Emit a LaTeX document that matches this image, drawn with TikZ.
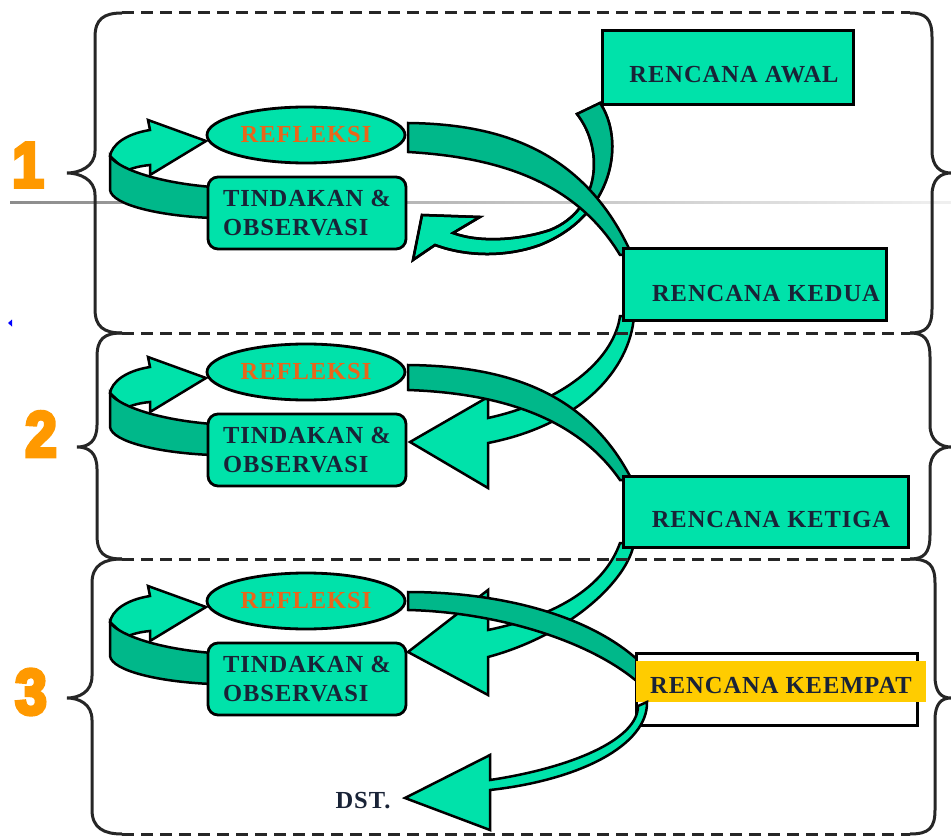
\documentclass[tikz,border=0pt]{standalone}
\usepackage{fontspec}
\setmainfont{Liberation Serif}[LetterSpace=4]
\newfontfamily\numfont{Liberation Sans}[BoldFeatures={FakeBold=6, FakeStretch=0.88}]
\usepackage{xcolor}
\usetikzlibrary{shapes.geometric}
\definecolor{ptkmint}{RGB}{0,226,170}
\definecolor{ptkdark}{RGB}{0,184,138}
\definecolor{ptkorange}{RGB}{255,153,0}
\definecolor{ptkrefl}{RGB}{232,102,26}
\definecolor{ptknavy}{RGB}{25,35,55}
\definecolor{ptkyellow}{RGB}{255,204,0}

\tikzset{
  ribbon/.style={draw=black, line width=2.5pt, fill=ptkmint},
  ribbonside/.style={ribbon, fill=ptkdark},
  lbl/.style={font=\bfseries\fontsize{24.5}{29}\selectfont, text=ptknavy, inner sep=0pt},
  refl/.style={ellipse, draw, line width=2.8pt, fill=ptkmint, minimum width=198pt,
    minimum height=56pt, lbl, text=ptkrefl},
  tbox/.style={rectangle, rounded corners=10pt, draw, line width=2.8pt, fill=ptkmint,
    minimum width=198pt, minimum height=72pt, align=left, lbl},
  planbox/.style={rectangle, draw, line width=3pt, fill=ptkmint, inner sep=0pt},
  panelline/.style={line width=3pt, black!85},
  digit/.style={font=\numfont\bfseries\fontsize{64}{64}\selectfont, text=ptkorange, inner sep=0pt},
}

\begin{document}
\begin{tikzpicture}[x=1pt, y=-1pt]
  \useasboundingbox (0,0) rectangle (951,837);
  % stray guide line and mark
  \shade[left color=black!45, right color=black!6] (10,201.8) rectangle (951,203.8);
  \fill[blue] (8,323) -- (12,319.5) -- (12,326.5) -- cycle;

  % small loops: tindakan back to refleksi
  \foreach \dy in {0,237,466} {
    \begin{scope}[shift={(0,\dy)}]
      \filldraw[ribbon] (110,156) .. controls (112,145) and (125,134) .. (150,130) -- (148,120)
        -- (206,141) -- (150,175) -- (150,165) .. controls (140,166) and (132,168) .. (126,171) -- cycle;
      \filldraw[ribbonside] (110,156) .. controls (115,166) and (150,182) .. (212,187) -- (212,218)
        .. controls (160,216) and (112,205) .. (110,190) -- cycle;
    \end{scope}
  }

  % rencana -> tindakan (light arrows)
  \def\awalarrow{(577,114) .. controls (605,150) and (600,210) .. (550,230)
    .. controls (520,240) and (480,243) .. (453,233) -- (480,217) -- (422,215) -- (413,260)
    -- (435,245) .. controls (470,258) and (510,256) .. (540,245)
    .. controls (615,215) and (625,140) .. (600,103) -- cycle}
  \filldraw[ribbon] \awalarrow;
  \begin{scope}
    \clip (560,90) -- (650,90) -- (650,225) -- (560,195) -- cycle;
    \fill[ptkdark] \awalarrow;
  \end{scope}
  \draw[line width=2.5pt] \awalarrow;
  \filldraw[ribbon] (620,316) .. controls (615,355) and (570,400) .. (488,418) -- (488,397)
    -- (410,442) -- (488,488) -- (488,443) .. controls (580,425) and (630,370) .. (634,316) -- cycle;
  \filldraw[ribbon] (620,543) .. controls (605,585) and (560,615) .. (488,630) -- (488,590)
    -- (408,652) -- (488,695) -- (488,657) .. controls (570,635) and (628,580) .. (634,543) -- cycle;

  % refleksi -> next rencana (dark bands)
  \filldraw[ribbonside] (408,123) .. controls (500,124) and (585,150) .. (632,255) -- (620,255)
    .. controls (575,180) and (495,157) .. (408,152) -- cycle;
  \filldraw[ribbonside] (408,365) .. controls (500,366) and (585,388) .. (632,480) -- (620,480)
    .. controls (575,415) and (495,393) .. (408,390) -- cycle;
  \filldraw[ribbonside] (408,592) .. controls (500,592) and (590,615) .. (640,662) -- (640,684)
    .. controls (590,640) and (495,612) .. (408,610) -- cycle;

  % cycle nodes
  \foreach \dy/\n in {0/1, 237/2, 466/3} {
    \node[refl] (e\n) at (306,135+\dy) {REFLEKSI};
    \node[tbox] (t\n) at (307,213+\dy) {TINDAKAN \&\\OBSERVASI};
  }

  % plans
  \node[planbox, minimum width=251pt, minimum height=74pt] (awal) at (727.5,68) {};
  \node[lbl] (awaltxt) at ([shift={(6.5,7)}]awal.center) {RENCANA AWAL};
  \node[planbox, minimum width=263pt, minimum height=71pt] (kedua) at (754.5,284.5) {};
  \node[lbl] (keduatxt) at ([shift={(11.5,9)}]kedua.center) {RENCANA KEDUA};
  \node[planbox, minimum width=285pt, minimum height=71pt] (ketiga) at (765.5,511.5) {};
  \node[lbl] (ketigatxt) at ([shift={(5.5,8)}]ketiga.center) {RENCANA KETIGA};
  \node[planbox, fill=white, minimum width=281pt, minimum height=72pt] (keempat) at (776.5,689) {};
  \node[lbl, fill=ptkyellow, minimum width=290pt, minimum height=41pt, text height=24pt,
    text depth=0pt] (keempattxt) at (781,681.5) {RENCANA KEEMPAT};

  % keempat -> dst.
  \filldraw[ribbon] (638,706) .. controls (638,740) and (570,768) .. (490,780) -- (490,755)
    -- (405,798) -- (490,830) -- (490,790) .. controls (580,780) and (648,745) .. (647,702) -- cycle;
  \node[lbl] (dst) at (363,801) {DST.};

  % panels: dashed edges and braces
  \foreach \yd in {13,333,559,834}
    \draw[panelline, dash pattern=on 12pt off 7pt] (122,\yd) -- (910,\yd);
  \foreach \ytop/\ybot/\ymid/\xl/\xt/\xr in {13/333/173/95/67/932, 333/559/447/97/77/930,
      559/834/698/92/67/935} {
    \draw[panelline] (122,\ytop) .. controls (104,\ytop) and (\xl,\ytop+6) .. (\xl,\ytop+24)
      -- (\xl,\ymid-22) .. controls (\xl,\ymid-6) and (\xt+12,\ymid) .. (\xt,\ymid)
      .. controls (\xt+12,\ymid) and (\xl,\ymid+6) .. (\xl,\ymid+22) -- (\xl,\ybot-24)
      .. controls (\xl,\ybot-6) and (104,\ybot) .. (122,\ybot);
    \draw[panelline] (910,\ytop) .. controls (\xr-6,\ytop) and (\xr,\ytop+6) .. (\xr,\ytop+24)
      -- (\xr,\ymid-22) .. controls (\xr,\ymid-6) and (941,\ymid) .. (951,\ymid)
      .. controls (941,\ymid) and (\xr,\ymid+6) .. (\xr,\ymid+22) -- (\xr,\ybot-24)
      .. controls (\xr,\ybot-6) and (\xr-6,\ybot) .. (910,\ybot);
  }

  % cycle numbers
  \node[digit] (n1) at (28,165) {1};
  \node[digit] (n2) at (41,434) {2};
  \node[digit] (n3) at (31,692) {3};
\end{tikzpicture}
\end{document}
